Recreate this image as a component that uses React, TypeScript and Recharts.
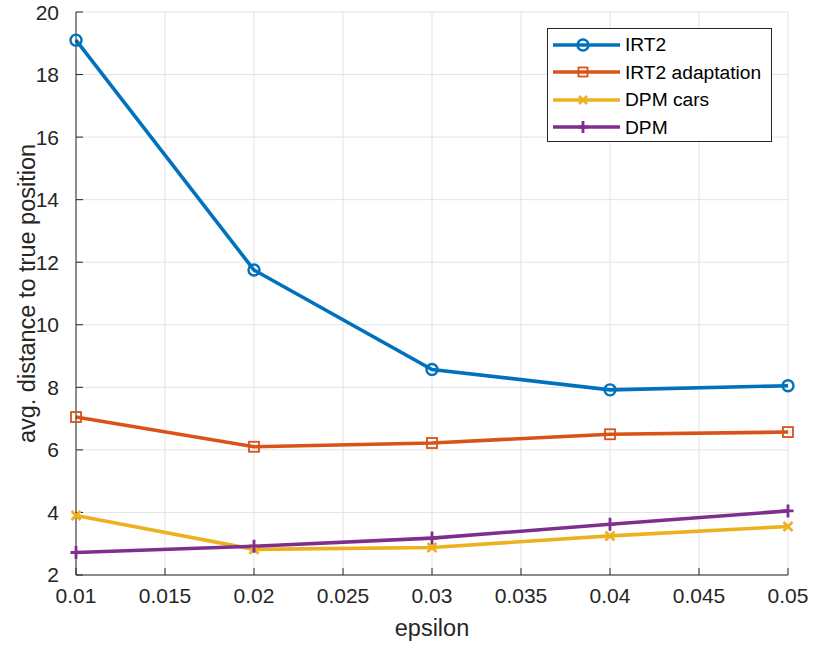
import React from 'react';
import { LineChart, Line, XAxis, YAxis, CartesianGrid } from 'recharts';

const epsilons = [0.01, 0.02, 0.03, 0.04, 0.05];
const irt2 = [19.1, 11.75, 8.57, 7.92, 8.05];
const irt2Adaptation = [7.05, 6.1, 6.22, 6.5, 6.57];
const dpmCars = [3.9, 2.82, 2.88, 3.25, 3.55];
const dpm = [2.72, 2.92, 3.18, 3.62, 4.05];

const xTicks = [0.01, 0.015, 0.02, 0.025, 0.03, 0.035, 0.04, 0.045, 0.05];
const yTicks = [2, 4, 6, 8, 10, 12, 14, 16, 18, 20];

const data = epsilons.map((e, i) => ({
  eps: e,
  irt2: irt2[i],
  irt2a: irt2Adaptation[i],
  dpmCars: dpmCars[i],
  dpm: dpm[i],
}));

const C1 = '#0072BD';
const C2 = '#D95319';
const C3 = '#EDB120';
const C4 = '#7E2F8E';
const AX = '#262626';
const FONT = '"Liberation Sans", Arial, Helvetica, sans-serif';
const LW = 3.6;

const CircleDot = (p: any) => (
  <circle key={p.index} cx={p.cx} cy={p.cy} r={5.5} fill="none" stroke={C1} strokeWidth={2.4} />
);
const SquareDot = (p: any) => (
  <rect key={p.index} x={p.cx - 5} y={p.cy - 5} width={10} height={10} fill="none" stroke={C2} strokeWidth={1.8} />
);
const XDot = (p: any) => (
  <path key={p.index} d={`M${p.cx - 4.5},${p.cy - 4.5}L${p.cx + 4.5},${p.cy + 4.5}M${p.cx - 4.5},${p.cy + 4.5}L${p.cx + 4.5},${p.cy - 4.5}`} stroke={C3} strokeWidth={2.8} fill="none" />
);
const PlusDot = (p: any) => (
  <path key={p.index} d={`M${p.cx - 5.5},${p.cy}L${p.cx + 5.5},${p.cy}M${p.cx},${p.cy - 6.5}L${p.cx},${p.cy + 6.5}`} stroke={C4} strokeWidth={2.8} fill="none" />
);

const legendItems = [
  { name: 'IRT2', color: C1, marker: 'o' },
  { name: 'IRT2 adaptation', color: C2, marker: 's' },
  { name: 'DPM cars', color: C3, marker: 'x' },
  { name: 'DPM', color: C4, marker: '+' },
];

const LegendMarker = ({ m, c }: { m: string; c: string }) => {
  const cx = 30, cy = 9;
  if (m === 'o') return <circle cx={cx} cy={cy} r={5.5} fill="none" stroke={c} strokeWidth={2.4} />;
  if (m === 's') return <rect x={cx - 4.5} y={cy - 4.5} width={9} height={9} fill="none" stroke={c} strokeWidth={1.8} />;
  if (m === 'x') return <path d={`M${cx - 4},${cy - 4}L${cx + 4},${cy + 4}M${cx - 4},${cy + 4}L${cx + 4},${cy - 4}`} stroke={c} strokeWidth={2.8} />;
  return <path d={`M${cx - 5},${cy}L${cx + 5},${cy}M${cx},${cy - 6}L${cx},${cy + 6}`} stroke={c} strokeWidth={2.8} />;
};

const LegendBox = () => (
  <div
    style={{
      position: 'absolute',
      left: 547,
      top: 28,
      width: 225,
      height: 114,
      border: '1px solid #262626',
      background: '#fff',
      boxSizing: 'border-box',
      paddingTop: 2,
      paddingLeft: 5,
      fontFamily: FONT,
      fontSize: 19.2,
      color: '#000',
    }}
  >
    {legendItems.map((it) => (
      <div key={it.name} style={{ display: 'flex', alignItems: 'center', height: 27.5 }}>
        <svg width={67} height={18} style={{ flex: 'none' }}>
          <line x1={0} y1={9} x2={67} y2={9} stroke={it.color} strokeWidth={LW} />
          <LegendMarker m={it.marker} c={it.color} />
        </svg>
        <span style={{ marginLeft: 5, whiteSpace: 'nowrap', lineHeight: 1 }}>{it.name}</span>
      </div>
    ))}
  </div>
);

const fmtX = (v: number) => {
  const s = v.toFixed(3);
  return s.replace(/0+$/, '');
};

export default function App() {
  return (
    <div style={{ position: 'absolute', left: 0, top: 0, width: 813, height: 646, background: '#fff' }}>
      <LineChart
        width={813}
        height={646}
        data={data}
        margin={{ top: 12, right: 25, bottom: 0, left: 0 }}
        style={{ fontFamily: FONT }}
      >
        <CartesianGrid stroke="#e3e3e3" strokeWidth={1} />
        <XAxis
          xAxisId={0}
          dataKey="eps"
          type="number"
          domain={[0.01, 0.05]}
          ticks={xTicks}
          tickFormatter={fmtX}
          height={71}
          tickSize={-7}
          tickMargin={20}
          stroke={AX}
          tick={{ fill: AX, fontSize: 21 }}
          axisLine={{ stroke: AX }}
          label={{
            content: (p: any) => (
              <text
                x={p.viewBox.x + p.viewBox.width / 2}
                y={p.viewBox.y + 53}
                textAnchor="middle"
                dominantBaseline="central"
                fill={AX}
                fontSize={23.5}
                fontFamily={FONT}
              >
                epsilon
              </text>
            ),
          }}
        />
        <XAxis
          xAxisId="top"
          orientation="top"
          dataKey="eps"
          type="number"
          domain={[0.01, 0.05]}
          ticks={xTicks}
          tickFormatter={() => ''}
          height={0}
          tickSize={-7}
          stroke={AX}
          axisLine={{ stroke: AX }}
        />
        <YAxis
          yAxisId={0}
          type="number"
          domain={[2, 20]}
          ticks={yTicks}
          width={76}
          tickSize={-7}
          tickMargin={24}
          stroke={AX}
          tick={{ fill: AX, fontSize: 21 }}
          axisLine={{ stroke: AX }}
          label={{
            content: (p: any) => (
              <text
                x={27}
                y={p.viewBox.y + p.viewBox.height / 2}
                textAnchor="middle"
                dominantBaseline="central"
                fill={AX}
                fontSize={23.5}
                fontFamily={FONT}
                transform={`rotate(-90, 27, ${p.viewBox.y + p.viewBox.height / 2})`}
              >
                avg. distance to true position
              </text>
            ),
          }}
        />
        <YAxis
          yAxisId="right"
          orientation="right"
          type="number"
          domain={[2, 20]}
          ticks={yTicks}
          width={0}
          tickSize={-7}
          tickFormatter={() => ''}
          stroke={AX}
          axisLine={{ stroke: AX }}
        />
        <Line xAxisId={0} yAxisId={0} dataKey="irt2" stroke={C1} strokeWidth={LW} dot={CircleDot} isAnimationActive={false} />
        <Line xAxisId={0} yAxisId={0} dataKey="irt2a" stroke={C2} strokeWidth={LW} dot={SquareDot} isAnimationActive={false} />
        <Line xAxisId={0} yAxisId={0} dataKey="dpmCars" stroke={C3} strokeWidth={LW} dot={XDot} isAnimationActive={false} />
        <Line xAxisId={0} yAxisId={0} dataKey="dpm" stroke={C4} strokeWidth={LW} dot={PlusDot} isAnimationActive={false} />
      </LineChart>
      <LegendBox />
    </div>
  );
}
